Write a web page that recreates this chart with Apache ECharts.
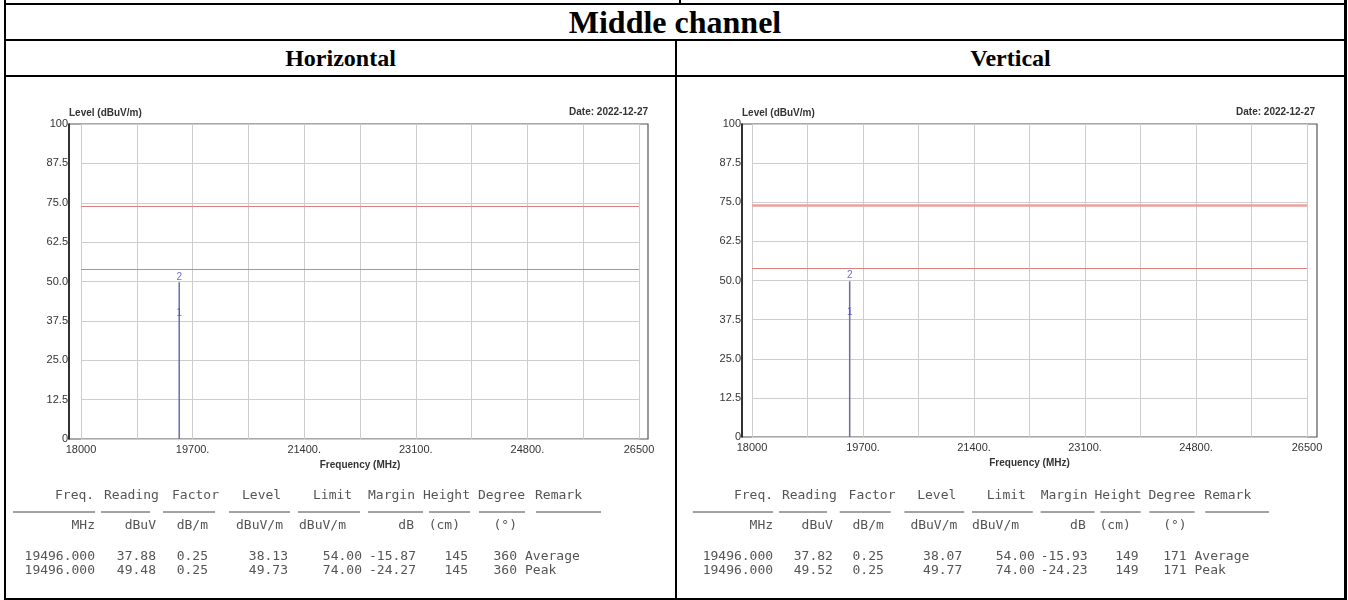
<!DOCTYPE html>
<html><head><meta charset="utf-8">
<script src="https://cdn.jsdelivr.net/npm/echarts@6/dist/echarts.min.js"></script>
<style>
html,body{margin:0;padding:0;background:#fff;}
#page{position:relative;width:1348px;height:600px;overflow:hidden;background:#fff;}
.ln{position:absolute;background:#000;}
.hd{position:absolute;font-family:'Liberation Serif','Times New Roman',serif;font-weight:bold;color:#000;text-align:center;white-space:nowrap;}
#chart{position:absolute;left:0;top:0;width:1348px;height:600px;}
</style></head>
<body><div id="page">
<div class="ln" style="left:679px;top:0;width:2px;height:4px"></div>
<div class="ln" style="left:4px;top:3px;width:1343px;height:2px"></div>
<div class="ln" style="left:4px;top:39px;width:1343px;height:2px"></div>
<div class="ln" style="left:4px;top:75px;width:1343px;height:2px"></div>
<div class="ln" style="left:4px;top:598px;width:1343px;height:2px"></div>
<div class="ln" style="left:4px;top:0;width:2px;height:600px"></div>
<div class="ln" style="left:1344px;top:0;width:3px;height:600px"></div>
<div class="ln" style="left:675px;top:40px;width:2px;height:560px"></div>
<div class="hd" style="left:4px;width:1342px;top:5px;height:34px;line-height:34px;font-size:32px">Middle channel</div>
<div class="hd" style="left:6px;width:669px;top:41px;height:34px;line-height:34px;font-size:24px">Horizontal</div>
<div class="hd" style="left:677px;width:667px;top:41px;height:34px;line-height:34px;font-size:24px">Vertical</div>
<div id="chart"></div>
</div>
<script>
// ---- data ----
const freqMin = 18000, freqMax = 26500, freqStep = 850;
const levelMin = 0, levelMax = 100, levelStep = 12.5;
const xLabelValues = [18000, 19700, 21400, 23100, 24800, 26500];
const xLabelTexts = ['18000', '19700.', '21400.', '23100.', '24800.', '26500'];
const yLabelTexts = ['0', '12.5', '25.0', '37.5', '50.0', '62.5', '75.0', '87.5', '100'];
const limitLevels = [74, 54];
const markerNames = ['1', '2'];
const hFreq = [19496.000, 19496.000];
const hLevel = [38.13, 49.73];
const vFreq = [19496.000, 19496.000];
const vLevel = [38.07, 49.77];
const dateText = 'Date: 2022-12-27';
const yName = 'Level (dBuV/m)';
const xName = 'Frequency (MHz)';
const tableHeader = ['Freq.', 'Reading', 'Factor', 'Level', 'Limit', 'Margin', 'Height', 'Degree', 'Remark'];
const tableUnits = ['MHz', 'dBuV', 'dB/m', 'dBuV/m', 'dBuV/m', 'dB', '(cm)', '(\u00B0)', ''];
const hRows = [
  ['19496.000', '37.88', '0.25', '38.13', '54.00', '-15.87', '145', '360', 'Average'],
  ['19496.000', '49.48', '0.25', '49.73', '74.00', '-24.27', '145', '360', 'Peak']
];
const vRows = [
  ['19496.000', '37.82', '0.25', '38.07', '54.00', '-15.93', '149', '171', 'Average'],
  ['19496.000', '49.52', '0.25', '49.77', '74.00', '-24.23', '149', '171', 'Peak']
];

// ---- layout ----
const panels = [
  { frame: {left: 69, top: 124, width: 579, height: 315}, plot: {left: 81, top: 124, width: 558, height: 315},
    yOffset: 12, dateX: 648, dateY: 112, freq: hFreq, level: hLevel, rows: hRows, tx0: 0, ts: 1,
    limitWidths: [1, 1] },
  { frame: {left: 742, top: 124, width: 575, height: 313}, plot: {left: 752, top: 124, width: 555, height: 313},
    yOffset: 10, dateX: 1315, dateY: 112, freq: vFreq, level: vLevel, rows: vRows, tx0: 680, ts: 0.98,
    limitWidths: [2.5, 1] }
];
const headX = [55, 104, 172, 242, 313, 368, 423, 478, 535];      // left aligned
const unitX = [95, 156, 208, 283, 346, 414, 460, 517];           // right aligned
const dataX = [95, 156, 208, 288, 362, 416, 468, 517];           // right aligned, remark left
const remarkX = 525;
const ulSegs = [[13,95],[101,150],[163,215],[229,290],[298,360],[368,423],[429,470],[479,525],[536,601]];
const tY = {head: 496, ul: 512, unit: 526, rows: [557, 571]};

const sans = "'Liberation Sans', Arial, sans-serif";
const mono = "'DejaVu Sans Mono', 'Liberation Mono', monospace";

const grid = [], xAxis = [], yAxis = [], series = [], graphic = [];
panels.forEach((p, k) => {
  const fi = grid.length;
  grid.push(Object.assign({show: true, borderColor: '#555', borderWidth: 1.2, backgroundColor: '#fff'}, p.frame));
  xAxis.push({gridIndex: fi, type: 'value', show: false, min: freqMin, max: freqMax});
  yAxis.push({gridIndex: fi, type: 'value', show: false, min: levelMin, max: levelMax});
  const di = grid.length;
  grid.push(Object.assign({show: false}, p.plot));
  xAxis.push({
    gridIndex: di, type: 'value', min: freqMin, max: freqMax, interval: freqStep,
    axisLine: {show: false}, axisTick: {show: false},
    axisLabel: {margin: 5, fontSize: 11, color: '#333', fontFamily: sans,
      formatter: v => { const i = xLabelValues.indexOf(Math.round(v)); return i >= 0 ? xLabelTexts[i] : ''; }},
    splitLine: {show: true, lineStyle: {color: '#cdcdcd', width: 1}},
    name: xName, nameLocation: 'middle', nameGap: 17,
    nameTextStyle: {fontSize: 10, color: '#333', fontFamily: sans, fontWeight: 'bold'}
  });
  yAxis.push({
    gridIndex: di, type: 'value', min: levelMin, max: levelMax, interval: levelStep, offset: p.yOffset,
    axisLine: {show: true, lineStyle: {color: '#111', width: 1.5}}, axisTick: {show: false},
    axisLabel: {margin: 1, fontSize: 11, color: '#333', fontFamily: sans,
      formatter: v => yLabelTexts[Math.round((v - levelMin) / levelStep)] || ''},
    splitLine: {show: true, lineStyle: {color: '#cdcdcd', width: 1}},
    name: yName, nameLocation: 'end', nameGap: 6,
    nameTextStyle: {fontSize: 10, color: '#333', fontFamily: sans, fontWeight: 'bold', align: 'left'}
  });
  const peak = Math.max.apply(null, p.level);
  series.push({
    type: 'line', xAxisIndex: di, yAxisIndex: di, symbol: 'none', silent: true,
    lineStyle: {color: '#6c6ca4', width: 1.5}, z: 3,
    data: [[p.freq[0], levelMin], [p.freq[0], peak]],
    markLine: {
      silent: true, symbol: 'none', label: {show: false},
      data: limitLevels.map((v, i) => ({yAxis: v, lineStyle: {color: i === 0 && k === 1 ? '#eda0a0' : '#d98080', width: p.limitWidths[i], type: 'solid'}}))
    }
  });
  series.push({
    type: 'scatter', xAxisIndex: di, yAxisIndex: di, silent: true, symbolSize: 1,
    itemStyle: {color: 'transparent'}, z: 4,
    data: p.freq.map((f, i) => [f, p.level[i], markerNames[i]]),
    label: {show: true, position: 'top', distance: 0, fontSize: 10, color: '#4a4ac0', fontFamily: sans,
      formatter: d => d.value[2]}
  });
  // date
  graphic.push({type: 'text', x: p.dateX, y: p.dateY, silent: true,
    style: {text: dateText, fontSize: 10, fontFamily: sans, fontWeight: 'bold', fill: '#333', align: 'right', verticalAlign: 'middle'}});
  // readings table
  const X = x => p.tx0 + x * p.ts;
  const txt = (x, y, s, align) => graphic.push({type: 'text', x: X(x), y: y, silent: true,
    style: {text: s, fontSize: 13, fontFamily: mono, fill: '#555', align: align, verticalAlign: 'middle'}});
  tableHeader.forEach((s, i) => txt(headX[i], tY.head, s, 'left'));
  ulSegs.forEach(sg => graphic.push({type: 'line', silent: true,
    shape: {x1: X(sg[0]), y1: tY.ul, x2: X(sg[1]), y2: tY.ul}, style: {stroke: '#444', lineWidth: 1}}));
  tableUnits.forEach((s, i) => { if (s) txt(unitX[i], tY.unit, s, 'right'); });
  p.rows.forEach((r, ri) => r.forEach((s, i) => {
    if (i < 8) txt(dataX[i], tY.rows[ri], s, 'right'); else txt(remarkX, tY.rows[ri], s, 'left');
  }));
});

const chart = echarts.init(document.getElementById('chart'), null, {renderer: 'canvas'});
chart.setOption({animation: false, grid, xAxis, yAxis, series, graphic});
</script>
</body></html>
